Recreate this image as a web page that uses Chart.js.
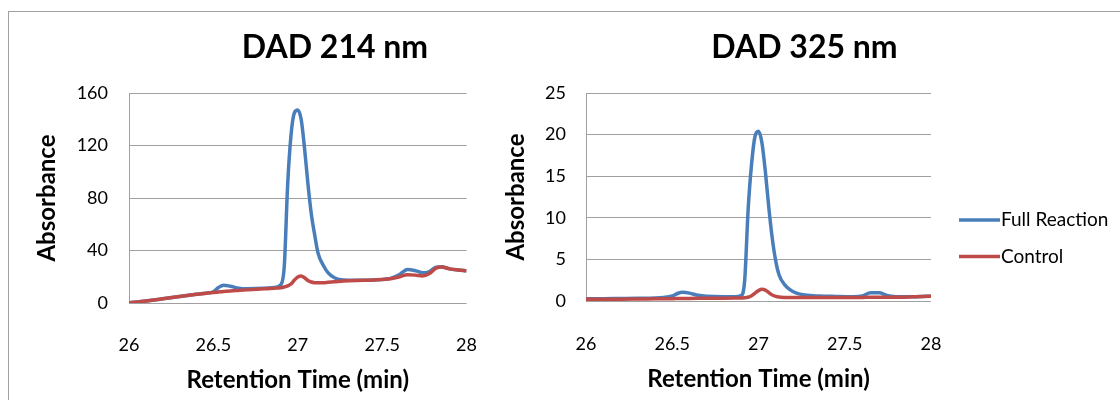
<!DOCTYPE html>
<html><head><meta charset="utf-8">
<script src="https://cdn.jsdelivr.net/npm/chart.js@4/dist/chart.umd.min.js"></script>
<style>
html,body{margin:0;padding:0;background:#fff;}
#wrap{position:relative;width:1120px;height:400px;overflow:hidden;background:#fff;}
#frame{position:absolute;left:8px;top:11px;width:1200px;height:500px;border-left:1px solid #a0a0a0;border-top:1px solid #a0a0a0;}
#c1{position:absolute;left:0;top:0;}
#c2{position:absolute;left:500px;top:0;}
</style></head><body>
<div id="wrap"><div id="frame"></div>
<canvas id="c1" width="500" height="400"></canvas>
<canvas id="c2" width="620" height="400"></canvas>
</div>
<script>
const times = [26.00, 26.10, 26.20, 26.30, 26.40, 26.45, 26.50, 26.53, 26.56, 26.60, 26.65, 26.70, 26.80, 26.86, 26.90, 26.92, 26.94, 26.96, 26.98, 27.00, 27.02, 27.04, 27.06, 27.08, 27.10, 27.12, 27.15, 27.18, 27.22, 27.27, 27.35, 27.45, 27.55, 27.60, 27.65, 27.70, 27.74, 27.78, 27.82, 27.85, 27.90, 27.95, 28.00];
const fullReaction214 = [0, 1.5, 3.3, 5.0, 6.6, 7.4, 8.6, 11.8, 13.6, 12.8, 11.3, 10.9, 11.2, 11.8, 14, 28, 90, 128, 145, 147, 140, 118, 91, 68, 52, 38, 29, 23, 19, 17.5, 17.3, 17.6, 18.8, 21.5, 25.6, 24.5, 23, 24, 27.3, 27.6, 26, 25.2, 24.6];
const control214 = [0, 1.5, 3.3, 5.0, 6.6, 7.3, 8.0, 8.4, 8.8, 9.2, 9.6, 10.0, 10.8, 11.3, 11.7, 12.2, 13.0, 14.5, 17.5, 19.8, 20.6, 19.2, 17.2, 16.0, 15.5, 15.4, 15.5, 15.8, 16.2, 16.7, 17.2, 17.6, 18.5, 19.8, 21.6, 21.2, 20.6, 22.5, 26.6, 27.4, 26, 25.2, 24.6];
const fullReaction325 = [0.28, 0.28, 0.3, 0.32, 0.35, 0.42, 0.6, 0.9, 1.05, 0.95, 0.68, 0.56, 0.5, 0.5, 0.65, 2.5, 11, 16.5, 19.8, 20.4, 19, 15.5, 11.2, 7.5, 4.8, 3.1, 2.0, 1.4, 0.95, 0.72, 0.6, 0.55, 0.52, 0.6, 0.98, 0.98, 0.7, 0.55, 0.5, 0.5, 0.5, 0.55, 0.58];
const control325 = [0.2, 0.21, 0.22, 0.24, 0.26, 0.27, 0.28, 0.29, 0.3, 0.31, 0.32, 0.33, 0.34, 0.35, 0.36, 0.38, 0.45, 0.62, 0.95, 1.25, 1.4, 1.3, 1.0, 0.72, 0.55, 0.47, 0.43, 0.42, 0.42, 0.42, 0.42, 0.42, 0.42, 0.43, 0.45, 0.46, 0.46, 0.45, 0.45, 0.46, 0.5, 0.55, 0.58];
const seriesNames = ['Full Reaction', 'Control'];
const chartTitles = ['DAD 214 nm', 'DAD 325 nm'];
const xTicks = [26, 26.5, 27, 27.5, 28];
const yTicks214 = [0, 40, 80, 120, 160];
const yTicks325 = [0, 5, 10, 15, 20, 25];
const xAxisTitle = 'Retention Time (min)';
const yAxisTitle = 'Absorbance';

const FONT = 'Lato, "Open Sans", sans-serif';
Chart.defaults.font.family = FONT;
Chart.defaults.color = '#000';

const BLUE = '#4a7ebb', RED = '#be4b48', GRID = '#a0a0a0';

const toPts = vals => vals.map((v, i) => ({x: times[i], y: v}));

const decor = {
  id: 'decor',
  afterDraw(chart, args, o) {
    const ctx = chart.ctx;
    ctx.save();
    ctx.fillStyle = '#000';
    ctx.font = 'bold 32px ' + FONT;
    ctx.textAlign = 'center';
    ctx.textBaseline = 'alphabetic';
    ctx.fillText(o.title, o.titleX, o.titleY);
    if (o.legend) {
      chart.data.datasets.forEach((ds, i) => {
        const y = o.legendY[i];
        ctx.strokeStyle = ds.borderColor;
        ctx.lineWidth = 3.5;
        ctx.beginPath();
        ctx.moveTo(o.legendX, y);
        ctx.lineTo(o.legendX + 41, y);
        ctx.stroke();
        ctx.fillStyle = '#000';
        ctx.font = '19px ' + FONT;
        ctx.textAlign = 'left';
        ctx.textBaseline = 'middle';
        ctx.fillText(ds.label, o.legendX + 42, y);
      });
    }
    ctx.restore();
  }
};

function makeChart(id, full, ctrl, yTicks, cfg) {
  return new Chart(document.getElementById(id), {
    type: 'line',
    data: {
      datasets: [
        {label: seriesNames[0], data: toPts(full), borderColor: BLUE, backgroundColor: BLUE, borderWidth: 3.5, pointRadius: 0, cubicInterpolationMode: 'monotone', order: 1},
        {label: seriesNames[1], data: toPts(ctrl), borderColor: RED, backgroundColor: RED, borderWidth: 3.5, pointRadius: 0, cubicInterpolationMode: 'monotone', order: 0}
      ]
    },
    options: {
      responsive: false, animation: false, devicePixelRatio: 1,
      layout: {padding: {left: cfg.pl, right: cfg.pr, top: 93, bottom: cfg.pb}},
      plugins: {legend: {display: false}, tooltip: {enabled: false}, title: {display: false}, decor: cfg.decor},
      scales: {
        x: {
          type: 'linear', min: xTicks[0], max: xTicks[xTicks.length - 1],
          afterBuildTicks: a => { a.ticks = xTicks.map(v => ({value: v})); },
          grid: {display: false}, border: {display: false},
          ticks: {padding: cfg.xtp, font: {size: 18}, color: '#000', maxRotation: 0, autoSkip: false, callback: v => String(v)},
          title: {display: true, text: xAxisTitle, font: {size: 24, weight: 'bold'}, color: '#000', padding: 0},
          afterFit: a => { a.height = cfg.xH; }
        },
        y: {
          min: yTicks[0], max: yTicks[yTicks.length - 1],
          afterBuildTicks: a => { a.ticks = yTicks.map(v => ({value: v})); },
          grid: {color: GRID, lineWidth: 1, drawTicks: false},
          border: {display: true, color: GRID, width: 1},
          ticks: {padding: cfg.ytp, font: {size: 18}, color: '#000', callback: v => String(v)},
          title: {display: true, text: yAxisTitle, font: {size: 24, weight: 'bold'}, color: '#000', padding: 0},
          afterFit: a => { a.width = cfg.yW; }
        }
      }
    },
    plugins: [decor]
  });
}

makeChart('c1', fullReaction214, control214, yTicks214, {
  pl: 33, pr: 32, pb: 5, xH: 92, yW: 96, ytp: 21, xtp: 23,
  decor: {title: chartTitles[0], titleX: 335, titleY: 58, legend: false}
});
makeChart('c2', fullReaction325, control325, yTicks325, {
  pl: 2, pr: 189, pb: 6, xH: 93, yW: 84, ytp: 20, xtp: 24,
  decor: {title: chartTitles[1], titleX: 304.5, titleY: 58, legend: true, legendX: 459, legendY: [220, 256.5]}
});
</script>
</body></html>
